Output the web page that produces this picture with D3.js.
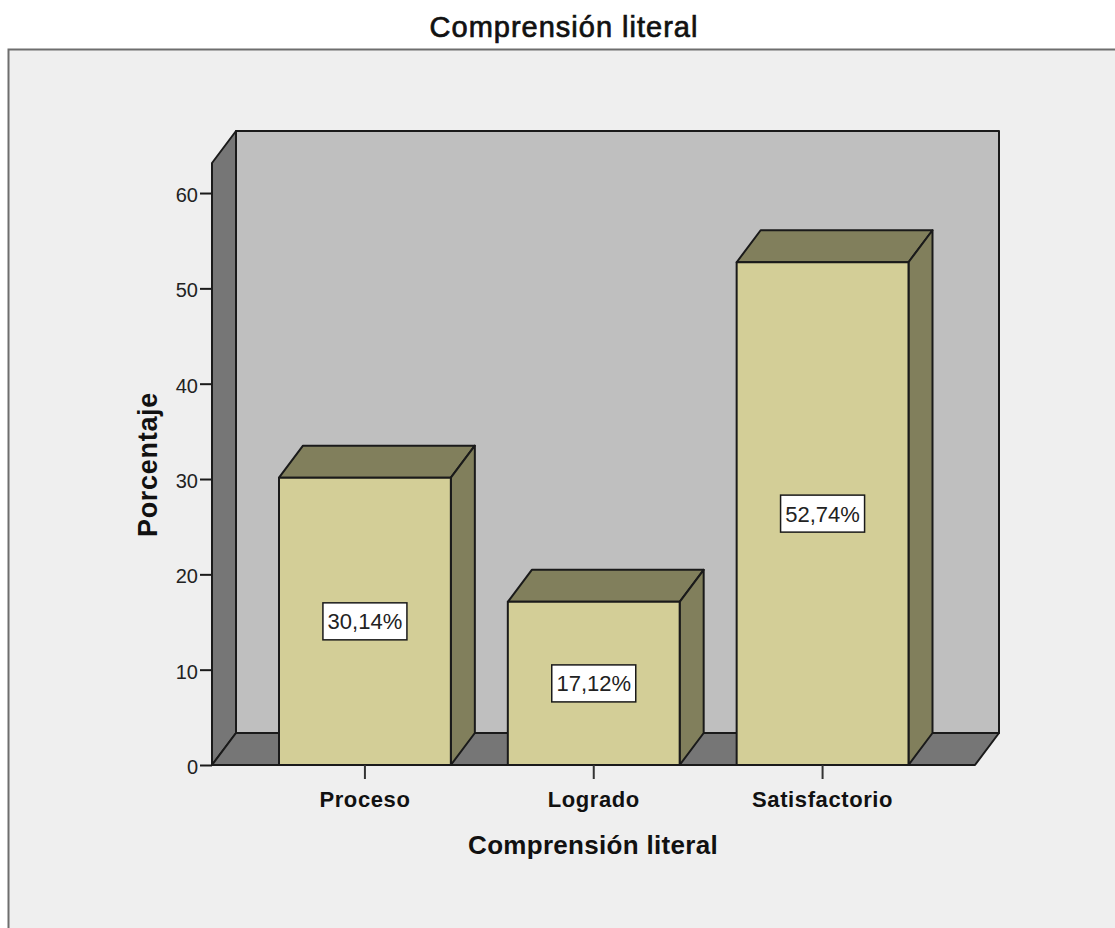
<!DOCTYPE html>
<html>
<head>
<meta charset="utf-8">
<script src="https://cdn.jsdelivr.net/npm/d3@7"></script>
<style>
  html, body { margin: 0; padding: 0; background: #fff; overflow: hidden; }
  svg { display: block; font-family: "Liberation Sans", Arial, sans-serif; }
</style>
</head>
<body>
<div id="chart"></div>
<script>
const chartTitle = "Comprensión literal";
const xAxisTitle = "Comprensión literal";
const yAxisTitle = "Porcentaje";
const categories = ["Proceso", "Logrado", "Satisfactorio"];
const percentages = [30.14, 17.12, 52.74];
const yTicks = [0, 10, 20, 30, 40, 50, 60];
const yDomainTop = 63.15;

const width = 1115, height = 928;
const depthX = 24, depthY = -32;
const floorLeft = 212, floorRight = 975, floorY = 765, wallTopY = 163;

const colors = {
  panel: "#efefef", panelEdge: "#6e6e6e", wall: "#bfbfbf", sideWall: "#767676",
  bar: "#d3ce97", barShade: "#817f5c", ink: "#1a1a1a"
};

const svg = d3.select("#chart").append("svg").attr("width", width).attr("height", height);

const y = d3.scaleLinear().domain([0, yDomainTop]).range([floorY, wallTopY]);
const x = d3.scaleBand().domain(categories).range([279, 908.5]).paddingInner(0.249).paddingOuter(0);

const poly = (pts, fill, parent = svg) => parent.append("polygon")
  .attr("points", pts.map(p => p.join(",")).join(" "))
  .attr("fill", fill).attr("stroke", colors.ink).attr("stroke-width", 2)
  .attr("stroke-linejoin", "round");

// Outer panel: runs past the right and bottom edges of the page
svg.append("rect").attr("x", 8.5).attr("y", 49.5).attr("width", width + 20).attr("height", height + 20)
  .attr("fill", colors.panel).attr("stroke", colors.panelEdge).attr("stroke-width", 2);

svg.append("text").attr("x", 564).attr("y", 37).attr("text-anchor", "middle")
  .attr("font-size", 29).attr("letter-spacing", 1).attr("fill", "#111")
  .attr("stroke", "#111").attr("stroke-width", 0.7)
  .text(chartTitle);

// Back wall, side wall and floor of the 3D box
poly([[floorLeft + depthX, wallTopY + depthY], [floorRight + depthX, wallTopY + depthY],
      [floorRight + depthX, floorY + depthY], [floorLeft + depthX, floorY + depthY]], colors.wall);
poly([[floorLeft, wallTopY], [floorLeft + depthX, wallTopY + depthY],
      [floorLeft + depthX, floorY + depthY], [floorLeft, floorY]], colors.sideWall);
poly([[floorLeft, floorY], [floorLeft + depthX, floorY + depthY],
      [floorRight + depthX, floorY + depthY], [floorRight, floorY]], colors.sideWall);

// Bars: front face, top face and right side face
const bars = svg.append("g").selectAll("g")
  .data(categories.map((c, i) => ({ category: c, value: percentages[i] })))
  .join("g");

bars.each(function (d) {
  const g = d3.select(this);
  const x0 = x(d.category), x1 = x0 + x.bandwidth(), top = y(d.value);
  poly([[x0, top], [x0 + depthX, top + depthY], [x1 + depthX, top + depthY], [x1, top]], colors.barShade, g);
  poly([[x1, top], [x1 + depthX, top + depthY], [x1 + depthX, floorY + depthY], [x1, floorY]], colors.barShade, g);
  poly([[x0, top], [x1, top], [x1, floorY], [x0, floorY]], colors.bar, g);

  const cx = x0 + x.bandwidth() / 2, cy = y(d.value / 2);
  g.append("rect").attr("x", cx - 42).attr("y", cy - 18.5).attr("width", 84).attr("height", 37)
    .attr("fill", "#fff").attr("stroke", colors.ink).attr("stroke-width", 1.5);
  g.append("text").attr("x", cx).attr("y", cy + 8).attr("text-anchor", "middle")
    .attr("font-size", 22).attr("fill", "#222")
    .text(d.value.toFixed(2).replace(".", ",") + "%");
});

// Value axis
const yAxis = svg.append("g").attr("transform", `translate(${floorLeft},0)`)
  .call(d3.axisLeft(y).tickValues(yTicks).tickSize(12).tickPadding(2));
yAxis.select(".domain").remove();
yAxis.selectAll("line").attr("stroke", colors.ink).attr("stroke-width", 2);
yAxis.selectAll("text").attr("font-size", 20).attr("font-family", "inherit").attr("fill", "#222")
  .attr("y", 2);

// Category axis
const xAxis = svg.append("g").attr("transform", `translate(0,${floorY})`)
  .call(d3.axisBottom(x).tickSize(14).tickPadding(12));
xAxis.select(".domain").remove();
xAxis.selectAll("line").attr("stroke", "#333").attr("stroke-width", 2);
xAxis.selectAll("text").attr("font-size", 22).attr("font-weight", "bold").attr("font-family", "inherit")
  .attr("letter-spacing", 0.6).attr("fill", "#111");

svg.append("text").attr("x", 593).attr("y", 854).attr("text-anchor", "middle")
  .attr("font-size", 26).attr("font-weight", "bold").attr("letter-spacing", 0.3).attr("fill", "#111")
  .text(xAxisTitle);

svg.append("text").attr("transform", "translate(157,464.5) rotate(-90)").attr("text-anchor", "middle")
  .attr("font-size", 27).attr("font-weight", "bold").attr("letter-spacing", 0.7).attr("fill", "#111")
  .text(yAxisTitle);
</script>
</body>
</html>
